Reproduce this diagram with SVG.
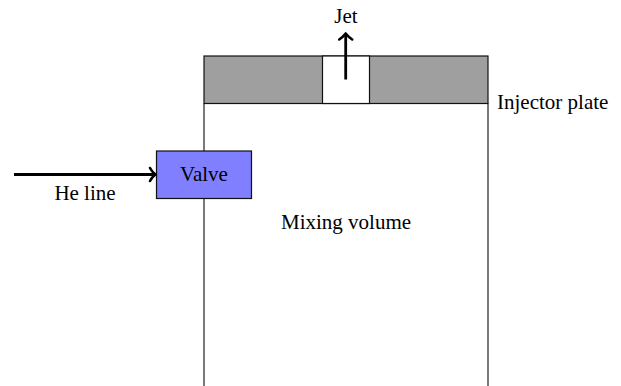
<svg xmlns="http://www.w3.org/2000/svg" width="621" height="386" viewBox="0 0 621 386">
<style>
text{font-family:"Liberation Serif",serif;font-size:21px;fill:#000}
.l{fill:none;stroke:#222;stroke-width:1.2}
.b{stroke:#111;stroke-width:1.2}
.a{fill:none;stroke:#000;stroke-width:2.8}
.h{fill:none;stroke:#000;stroke-width:2.6;stroke-linecap:round;stroke-linejoin:round}
</style>
<rect width="621" height="386" fill="#fff"/>
<g id="mixing-volume"><path class="l" d="M204 103.500V386M488 103.500V386"/><text x="346" y="228.500" text-anchor="middle">Mixing volume</text></g>
<g id="injector-plate"><rect class="b" x="204" y="56" width="284" height="47.500" fill="#9f9f9f"/><rect class="b" x="322.500" y="56" width="47" height="47.500" fill="#fff"/><text x="497" y="109">Injector plate</text></g>
<g id="valve"><rect class="b" x="156.500" y="151" width="95" height="47.500" fill="#7f7fff"/><text x="204" y="181" text-anchor="middle">Valve</text></g>
<g id="connectors"><path class="a" d="M14 174.500H155"/><path class="h" d="M150 168Q152 172 155.500 174.500Q152 177 150 181"/><path class="a" d="M345.700 79.500V34"/><path class="h" d="M339.200 39.500Q343 37 345.700 33.500Q348.500 37 352.200 39.500"/></g>
<text x="346" y="23" text-anchor="middle">Jet</text>
<text x="85" y="200" text-anchor="middle">He line</text>
</svg>
